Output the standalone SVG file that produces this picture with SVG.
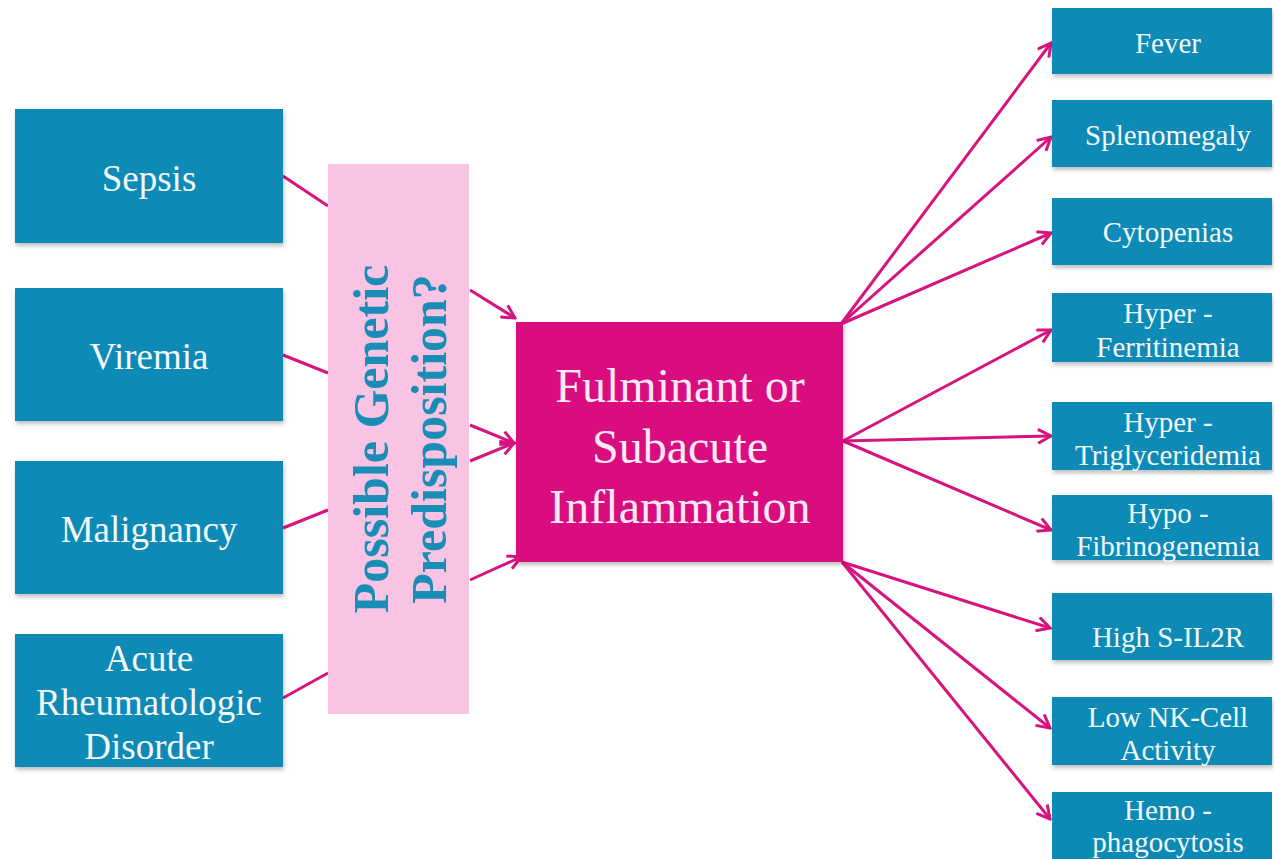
<svg xmlns="http://www.w3.org/2000/svg" width="1274" height="859" viewBox="0 0 1274 859">
<style>
.box{fill:#0b8ab5;}
.lt{font-family:"Liberation Serif","Times New Roman",serif;font-size:37px;fill:#f2f8fb;text-anchor:middle;}
.rt{font-family:"Liberation Serif","Times New Roman",serif;font-size:29px;fill:#f2f8fb;text-anchor:middle;}
.ct{font-family:"Liberation Serif","Times New Roman",serif;font-size:48px;fill:#fdeaf5;text-anchor:middle;}
.gt{font-family:"Liberation Serif","Times New Roman",serif;font-size:50px;font-weight:bold;fill:#1a8db6;text-anchor:middle;}
.ln{stroke:#d6137f;stroke-width:3;fill:none;}
.ar{stroke:#d6137f;stroke-width:3;fill:none;marker-end:url(#ah);}
</style>
<defs>
<filter id="sh" x="-5%" y="-5%" width="112%" height="120%">
<feDropShadow dx="1" dy="3" stdDeviation="2" flood-color="#000" flood-opacity="0.25"/>
</filter>
<marker id="ah" viewBox="0 0 16 16" refX="14" refY="8" markerWidth="16" markerHeight="16" markerUnits="userSpaceOnUse" orient="auto">
<path d="M1,1 L14,8 L1,15" fill="none" stroke="#d6137f" stroke-width="3" stroke-linejoin="miter"/>
</marker>
</defs>
<rect width="1274" height="859" fill="#ffffff"/>

<g id="connectors">
<line class="ln" x1="283" y1="176" x2="328" y2="206"/>
<line class="ln" x1="283" y1="355" x2="328" y2="373"/>
<line class="ln" x1="283" y1="528" x2="328" y2="510"/>
<line class="ln" x1="283" y1="698" x2="328" y2="673"/>
<line class="ar" x1="470" y1="290" x2="515" y2="318"/>
<line class="ar" x1="470" y1="425" x2="514" y2="443"/>
<line class="ar" x1="470" y1="461" x2="514" y2="443"/>
<line class="ar" x1="470" y1="580" x2="521" y2="557"/>
<line class="ar" x1="841" y1="324" x2="1051" y2="43"/>
<line class="ar" x1="841" y1="324" x2="1051" y2="137"/>
<line class="ar" x1="841" y1="324" x2="1051" y2="233"/>
<line class="ar" x1="843" y1="441" x2="1051" y2="330"/>
<line class="ar" x1="843" y1="441" x2="1051" y2="436"/>
<line class="ar" x1="843" y1="441" x2="1051" y2="530"/>
<line class="ar" x1="842" y1="562" x2="1050" y2="628"/>
<line class="ar" x1="842" y1="562" x2="1050" y2="728"/>
<line class="ar" x1="842" y1="562" x2="1050" y2="819"/>
</g>

<g id="sepsis"><rect class="box" x="15" y="109" width="268" height="134" filter="url(#sh)"/><text class="lt" x="149" y="191">Sepsis</text></g>
<g id="viremia"><rect class="box" x="15" y="288" width="268" height="133" filter="url(#sh)"/><text class="lt" x="149" y="369">Viremia</text></g>
<g id="malignancy"><rect class="box" x="15" y="461" width="268" height="133" filter="url(#sh)"/><text class="lt" x="149" y="542">Malignancy</text></g>
<g id="acute"><rect class="box" x="15" y="634" width="268" height="133" filter="url(#sh)"/>
<text class="lt" x="149" y="671">Acute</text><text class="lt" x="149" y="715">Rheumatologic</text><text class="lt" x="149" y="759">Disorder</text></g>

<g id="genetic"><rect x="328" y="164" width="141" height="550" fill="#f9c3e4"/>
<text class="gt" transform="translate(388,439) rotate(-90)">Possible Genetic</text>
<text class="gt" transform="translate(446,439) rotate(-90)">Predisposition?</text></g>

<g id="inflammation"><rect x="516" y="322" width="327" height="240" fill="#da0a80" filter="url(#sh)"/>
<text class="ct" x="680" y="402">Fulminant or</text><text class="ct" x="680" y="463">Subacute</text><text class="ct" x="680" y="523">Inflammation</text></g>

<g id="fever"><rect class="box" x="1052" y="8" width="220" height="66" filter="url(#sh)"/><text class="rt" x="1168" y="53">Fever</text></g>
<g id="splenomegaly"><rect class="box" x="1052" y="100" width="220" height="67" filter="url(#sh)"/><text class="rt" x="1168" y="145">Splenomegaly</text></g>
<g id="cytopenias"><rect class="box" x="1052" y="198" width="220" height="67" filter="url(#sh)"/><text class="rt" x="1168" y="242">Cytopenias</text></g>
<g id="ferritinemia"><rect class="box" x="1052" y="293" width="220" height="69" filter="url(#sh)"/><text class="rt" x="1168" y="323">Hyper -</text><text class="rt" x="1168" y="357">Ferritinemia</text></g>
<g id="triglyceridemia"><rect class="box" x="1052" y="402" width="220" height="68" filter="url(#sh)"/><text class="rt" x="1168" y="432">Hyper -</text><text class="rt" x="1168" y="465">Triglyceridemia</text></g>
<g id="fibrinogenemia"><rect class="box" x="1052" y="495" width="220" height="65" filter="url(#sh)"/><text class="rt" x="1168" y="523">Hypo -</text><text class="rt" x="1168" y="556">Fibrinogenemia</text></g>
<g id="il2r"><rect class="box" x="1052" y="593" width="220" height="67" filter="url(#sh)"/><text class="rt" x="1168" y="647">High S-IL2R</text></g>
<g id="nkcell"><rect class="box" x="1052" y="697" width="220" height="68" filter="url(#sh)"/><text class="rt" x="1168" y="727">Low NK-Cell</text><text class="rt" x="1168" y="760">Activity</text></g>
<g id="hemophagocytosis"><rect class="box" x="1052" y="792" width="220" height="70"/><text class="rt" x="1168" y="820">Hemo -</text><text class="rt" x="1168" y="852">phagocytosis</text></g>
</svg>
